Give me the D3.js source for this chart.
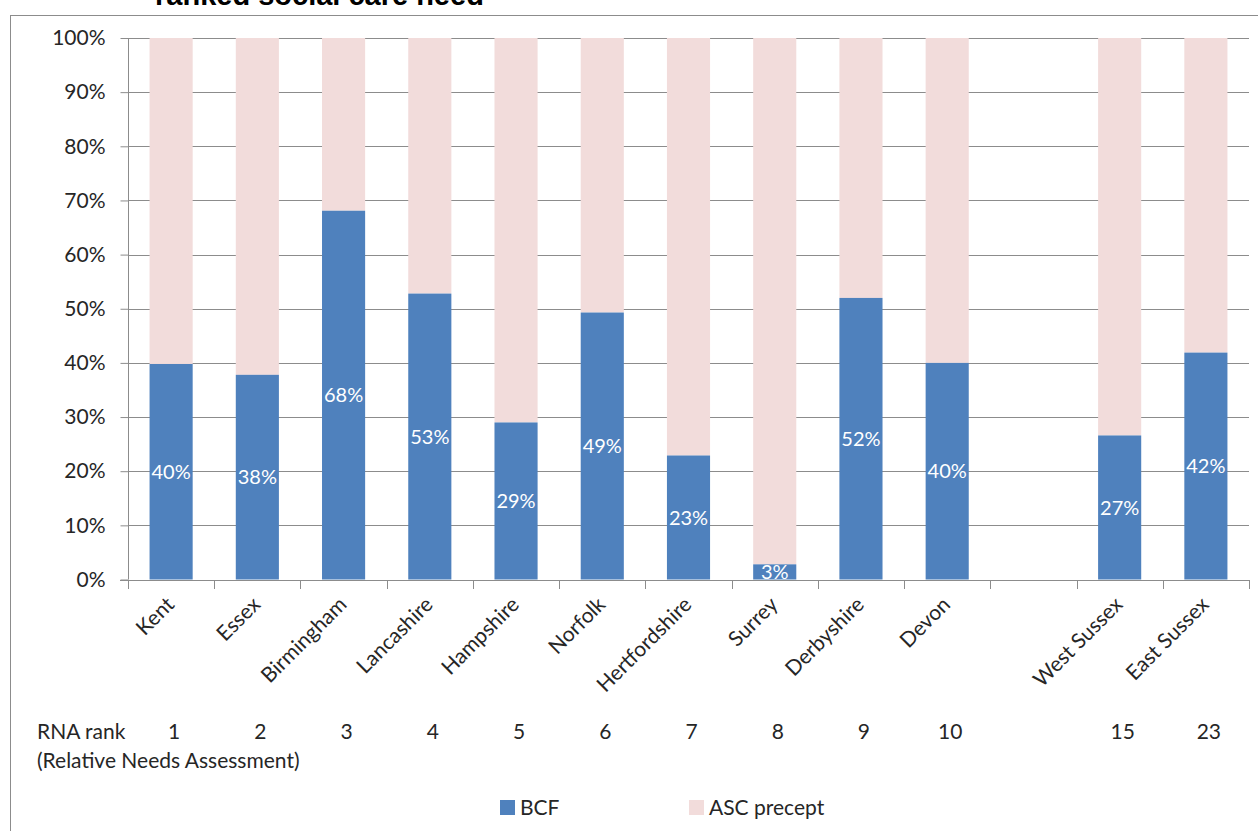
<!DOCTYPE html>
<html>
<head>
<meta charset="utf-8">
<script src="https://cdn.jsdelivr.net/npm/d3@7"></script>
<style>
  body { margin: 0; background: #fff; }
  svg { display: block; font-family: Lato, "Noto Sans", sans-serif; }
</style>
</head>
<body>
<div id="chart"></div>
<script>
// categories (the empty one is the gap between Devon and West Sussex)
const councils = ['Kent', 'Essex', 'Birmingham', 'Lancashire', 'Hampshire', 'Norfolk',
    'Hertfordshire', 'Surrey', 'Derbyshire', 'Devon', '', 'West Sussex', 'East Sussex'];
const bcf = [39.8, 37.8, 68.1, 52.8, 29.0, 49.3, 22.9, 2.8, 52.0, 40.0, null, 26.6, 41.9];
const ascPrecept = [60.2, 62.2, 31.9, 47.2, 71.0, 50.7, 77.1, 97.2, 48.0, 60.0, null, 73.4, 58.1];
const rnaRank = [1, 2, 3, 4, 5, 6, 7, 8, 9, 10, null, 15, 23];
const yTicks = [0, 10, 20, 30, 40, 50, 60, 70, 80, 90, 100];
const seriesNames = ['BCF', 'ASC precept'];
const seriesColors = ['#4f81bd', '#f2dcdb'];

const width = 1258, height = 831;
const plotLeft = 128, plotRight = 1249, plotTop = 38, plotBottom = 579.5;
const fontSize = 21;

const svg = d3.select('#chart').append('svg')
    .attr('width', width)
    .attr('height', height);

// outer chart border (runs off the right and bottom edges)
svg.append('rect')
    .attr('x', 10.5).attr('y', 15.5)
    .attr('width', 1300).attr('height', 900)
    .attr('fill', 'none')
    .attr('stroke', '#8c8c8c');

// title, mostly cropped off like in the source
svg.append('text')
    .attr('x', 155).attr('y', 5)
    .attr('font-family', '"Liberation Sans", Arial, sans-serif')
    .attr('font-weight', 'bold')
    .attr('font-size', 29)
    .attr('fill', '#000')
    .text('ranked social care need');

const x = d3.scaleBand()
    .domain(d3.range(councils.length))
    .range([plotLeft, plotRight])
    .paddingInner(0.5)
    .paddingOuter(0.25);

const y = d3.scaleLinear()
    .domain([0, 100])
    .range([plotBottom, plotTop]);

// gridlines
svg.append('g')
    .selectAll('line')
    .data(yTicks)
    .enter().append('line')
    .attr('x1', plotLeft).attr('x2', plotRight)
    .attr('y1', d => Math.round(y(d)) + 0.5)
    .attr('y2', d => Math.round(y(d)) + 0.5)
    .attr('stroke', '#8c8c8c');

// stacked bars
const rows = councils.map((c, i) => ({ i: i, bcf: bcf[i], asc: ascPrecept[i] }))
    .filter(d => d.bcf !== null);

svg.append('g')
    .selectAll('rect')
    .data(rows)
    .enter().append('rect')
    .attr('x', d => x(d.i))
    .attr('width', x.bandwidth())
    .attr('y', d => y(d.bcf + d.asc))
    .attr('height', d => y(d.bcf) - y(d.bcf + d.asc))
    .attr('fill', seriesColors[1]);

svg.append('g')
    .selectAll('rect')
    .data(rows)
    .enter().append('rect')
    .attr('x', d => x(d.i))
    .attr('width', x.bandwidth())
    .attr('y', d => y(d.bcf))
    .attr('height', d => y(0) - y(d.bcf))
    .attr('fill', seriesColors[0]);

// data labels
svg.append('g')
    .selectAll('text')
    .data(rows)
    .enter().append('text')
    .attr('x', d => x(d.i) + x.bandwidth() / 2)
    .attr('y', d => y(d.bcf / 2))
    .attr('dy', '0.36em')
    .attr('text-anchor', 'middle')
    .attr('font-size', 20)
    .attr('fill', '#fff')
    .text(d => Math.round(d.bcf) + '%');

// y axis
const yAxis = d3.axisLeft(y)
    .tickValues(yTicks)
    .tickSize(8)
    .tickPadding(15)
    .tickFormat(d => d + '%');

const yg = svg.append('g')
    .attr('transform', `translate(${plotLeft + 0.5},0)`)
    .call(yAxis);
yg.select('.domain').attr('stroke', '#8c8c8c').attr('d', `M0,${plotTop}V${plotBottom}`);
yg.selectAll('.tick line').attr('stroke', '#8c8c8c');
yg.selectAll('.tick text')
    .attr('font-family', 'Lato, sans-serif')
    .attr('font-size', fontSize)
    .attr('fill', '#262626');

// x axis line with tick marks between categories
const nSlots = councils.length;
svg.append('line')
    .attr('x1', plotLeft - 8).attr('x2', plotRight)
    .attr('y1', Math.round(plotBottom) + 0.5).attr('y2', Math.round(plotBottom) + 0.5)
    .attr('stroke', '#8c8c8c');
svg.append('g')
    .selectAll('line')
    .data(d3.range(nSlots + 1))
    .enter().append('line')
    .attr('x1', d => Math.round(plotLeft + d * (plotRight - plotLeft) / nSlots) + 0.5)
    .attr('x2', d => Math.round(plotLeft + d * (plotRight - plotLeft) / nSlots) + 0.5)
    .attr('y1', Math.round(plotBottom))
    .attr('y2', Math.round(plotBottom) + 9)
    .attr('stroke', '#8c8c8c');

// rotated category labels
svg.append('g')
    .selectAll('text')
    .data(councils.map((c, i) => ({ c: c, i: i })).filter(d => d.c !== ''))
    .enter().append('text')
    .attr('transform', d => `translate(${x(d.i) + x.bandwidth() / 2 - 1},${plotBottom + 21}) rotate(-45)`)
    .attr('text-anchor', 'end')
    .attr('dy', '0.36em')
    .attr('font-size', fontSize)
    .attr('fill', '#262626')
    .text(d => d.c);

// RNA rank row
svg.append('text')
    .attr('x', 37).attr('y', 739)
    .attr('font-size', fontSize)
    .attr('fill', '#262626')
    .text('RNA rank');
svg.append('text')
    .attr('x', 37).attr('y', 768)
    .attr('font-size', fontSize)
    .attr('fill', '#262626')
    .text('(Relative Needs Assessment)');

svg.append('g')
    .selectAll('text')
    .data(rnaRank.map((r, i) => ({ r: r, i: i })).filter(d => d.r !== null))
    .enter().append('text')
    .attr('x', d => x(d.i) + x.bandwidth() / 2 + 3)
    .attr('y', 739)
    .attr('text-anchor', 'middle')
    .attr('font-size', fontSize)
    .attr('fill', '#262626')
    .text(d => d.r);

// legend
const legendX = [500, 689];
const legend = svg.append('g')
    .selectAll('g')
    .data(seriesNames)
    .enter().append('g')
    .attr('transform', (d, i) => `translate(${legendX[i]},800)`);
legend.append('rect')
    .attr('width', 15).attr('height', 15)
    .attr('fill', (d, i) => seriesColors[i]);
legend.append('text')
    .attr('x', 20).attr('y', 15)
    .attr('font-size', fontSize)
    .attr('fill', '#262626')
    .text(d => d);
</script>
</body>
</html>
